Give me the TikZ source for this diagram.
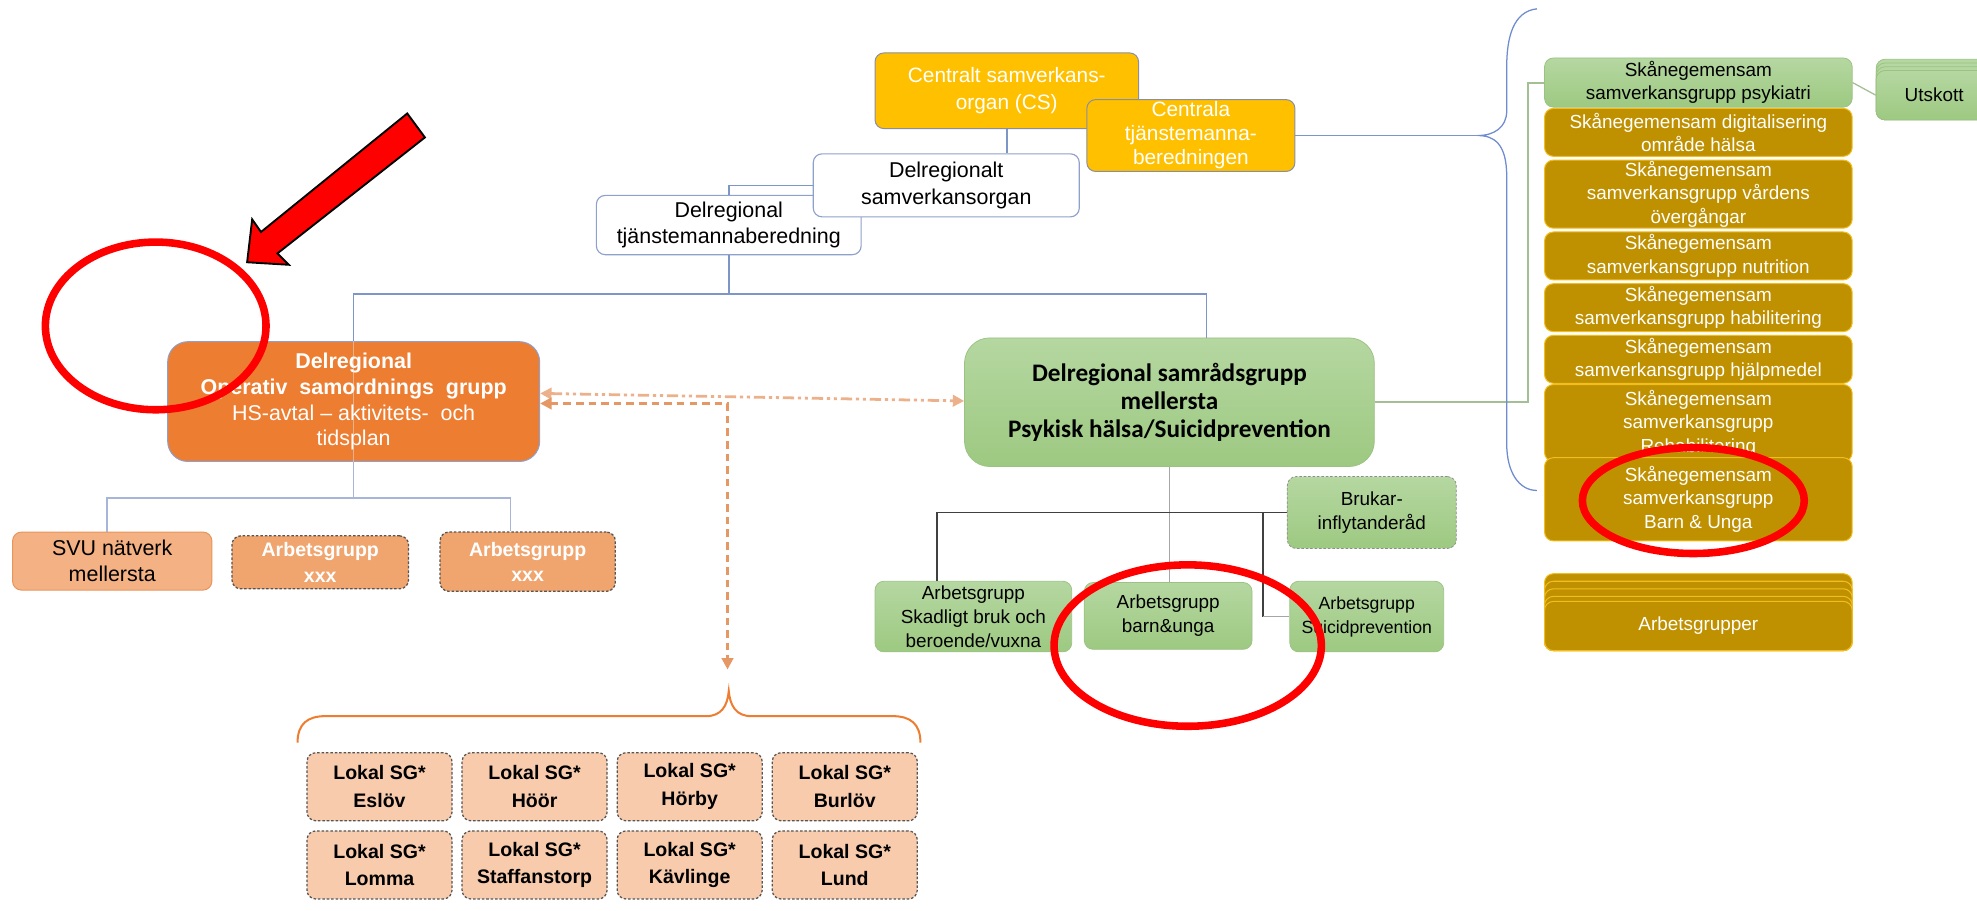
\documentclass[tikz,border=0pt]{standalone}
\usepackage{fontspec}
\setmainfont{Liberation Sans}
\newfontfamily\calibri{Carlito}
\usetikzlibrary{arrows.meta}

\definecolor{csyellow}{HTML}{FFC000}
\definecolor{osgorange}{HTML}{ED7D31}
\definecolor{svuorange}{HTML}{F4B183}
\definecolor{svuedge}{HTML}{E8955C}
\definecolor{agxorange}{HTML}{F0A46E}
\definecolor{lokalpeach}{HTML}{F8CBAD}
\definecolor{greentop}{HTML}{B5D7A1}
\definecolor{greenbot}{HTML}{9DC981}
\definecolor{greenedge}{HTML}{9CC283}
\definecolor{mustard}{HTML}{BF9000}
\definecolor{mustedge}{HTML}{F2BE1E}
\definecolor{linkblue}{HTML}{7E95C8}
\definecolor{linklight}{HTML}{A7B6D8}
\definecolor{bracebl}{HTML}{6E8CCF}
\definecolor{dashorange}{HTML}{E59764}
\definecolor{edgeblue}{HTML}{8EA0CC}
\definecolor{edgegray}{HTML}{8A8FA0}
\definecolor{dashgray}{HTML}{555555}

\tikzset{
  box/.style={rounded corners=7pt, inner sep=0pt, align=center,
    font=\fontsize{17}{21}\selectfont},
  ybox/.style={box, fill=csyellow, draw=edgegray, line width=0.8pt, text=white},
  wbox/.style={box, fill=white, draw=edgeblue, line width=0.9pt},
  obox/.style={box, fill=osgorange, draw=edgeblue, line width=0.8pt, text=white,
    rounded corners=16pt, font=\fontsize{17}{20.5}\selectfont},
  svubox/.style={box, fill=svuorange, draw=svuedge, line width=0.8pt},
  xbox/.style={box, fill=agxorange, draw=dashgray, line width=1pt,
    dash pattern=on 2pt off 1.5pt, text=white,
    font=\bfseries\fontsize{15.5}{20}\selectfont},
  lbox/.style={box, fill=lokalpeach, draw=dashgray, line width=1pt,
    dash pattern=on 2pt off 1.5pt, minimum width=115pt, minimum height=54pt,
    font=\bfseries\fontsize{15.5}{22}\selectfont},
  gbox/.style={box, top color=greentop, bottom color=greenbot, draw=greenedge,
    line width=0.6pt, font=\fontsize{15}{19}\selectfont},
  mbox/.style={box, fill=mustard, draw=mustedge, line width=0.8pt, text=white,
    minimum width=244pt, font=\fontsize{15}{18.5}\selectfont},
  pbox/.style={gbox, minimum width=244pt, font=\fontsize{15}{18.5}\selectfont},
  link/.style={linkblue, line width=1.2pt},
  lightlink/.style={linklight, line width=1.2pt},
  darklink/.style={black!75, line width=1.4pt},
  graylink/.style={black!35, line width=1pt},
  greenlink/.style={greentop!85!black!90, line width=1.5pt},
  redring/.style={red, line width=6pt}
}

\begin{document}
\begin{tikzpicture}[x=1pt,y=-1pt]

  \clip (0,0) rectangle (1568,722);
  \fill[white] (0,0) rectangle (1568,722);

  % central and sub-regional bodies
  \node[ybox, minimum width=209pt, minimum height=60pt,
    font=\fontsize{16.5}{21}\selectfont] (cs) at (798.5,72)
    {Centralt samverkans-\\organ (CS)};
  \node[ybox, minimum width=165pt, minimum height=57pt,
    font=\fontsize{16.5}{19}\selectfont] (ctb) at (944.5,107.5)
    {Centrala\\tjänstemanna-\\beredningen};
  \node[wbox, minimum width=210pt, minimum height=47pt] (dtb) at (578,178.5)
    {Delregional\\tjänstemannaberedning};
  \node[wbox, minimum width=211pt, minimum height=50pt] (dso) at (750.5,147)
    {Delregionalt\\samverkansorgan};

  % operative group (orange)
  \node[obox, minimum width=295pt, minimum height=95pt] (osg) at (280.5,318.5)
    {\textbf{Delregional}\\\textbf{Operativ~ samordnings~ grupp}\\HS-avtal – aktivitets-~ och\\tidsplan};
  \draw[white!80!gray, opacity=.5, line width=0.8pt] (osg.north) -- (osg.south);

  \node[svubox, minimum width=158pt, minimum height=46pt] (svu) at (89,445)
    {SVU nätverk\\mellersta};
  \node[xbox, minimum width=140pt, minimum height=42pt] (agx1) at (254,446)
    {Arbetsgrupp\\xxx};
  \node[xbox, minimum width=139pt, minimum height=47pt] (agx2) at (418.5,445.5)
    {Arbetsgrupp\\xxx};

  % local groups
  \foreach \name/\col/\row [count=\i] in {Eslöv/0/0, Höör/1/0, Hörby/2/0,
    Burlöv/3/0, Lomma/0/1, Staffanstorp/1/1, Kävlinge/2/1, Lund/3/1}
    \node[lbox] (lsg\i) at ({301+123*\col},{624+62*\row}) {Lokal SG*\\\name};

  \draw[osgorange, line width=1.6pt] (236,589) .. controls (236,574) and (244,568) ..
    (258,568) -- (560,568) .. controls (572,568) and (577,560) .. (578,548)
    .. controls (579,560) and (584,568) .. (596,568) -- (708,568)
    .. controls (722,568) and (730,574) .. (730,589);
  \coordinate (lsgtop) at (577,531);

  % samradsgrupp (green)
  \node[gbox, minimum width=325pt, minimum height=102pt, rounded corners=20pt,
    font=\calibri\bfseries\fontsize{20}{22}\selectfont] (sam) at (927.5,319)
    {Delregional samrådsgrupp\\mellersta\\Psykisk hälsa/Suicidprevention};
  \node[gbox, draw=black!45, dash pattern=on 2pt off 1.5pt, minimum width=134pt,
    minimum height=57pt] (bru) at (1088,406.5) {Brukar-\\inflytanderåd};
  \node[gbox, minimum width=156pt, minimum height=56pt] (ags) at (772,489)
    {Arbetsgrupp\\Skadligt bruk och\\beroende/vuxna};
  \node[gbox, minimum width=133pt, minimum height=53pt] (agb) at (926.5,488.5)
    {Arbetsgrupp\\barn\&unga};
  \node[gbox, minimum width=122pt, minimum height=56pt,
    font=\fontsize{14}{19}\selectfont] (agp) at (1084,489)
    {Arbetsgrupp\\Suicidprevention};

  % right column
  \node[pbox, minimum height=39pt] (psy) at (1347,65.5)
    {Skånegemensam\\samverkansgrupp psykiatri};
  \node[mbox, minimum height=38pt] (dig) at (1347,105)
    {Skånegemensam digitalisering\\område hälsa};
  \node[mbox, minimum height=54pt] (vrd) at (1347,154)
    {Skånegemensam\\samverkansgrupp vårdens\\övergångar};
  \node[mbox, minimum height=38pt] (nut) at (1347,203)
    {Skånegemensam\\samverkansgrupp nutrition};
  \node[mbox, minimum height=38pt] (hab) at (1347,244)
    {Skånegemensam\\samverkansgrupp habilitering};
  \node[mbox, minimum height=38pt] (hjm) at (1347,285)
    {Skånegemensam\\samverkansgrupp hjälpmedel};
  \node[mbox, minimum height=61pt] (reh) at (1347,335.5)
    {Skånegemensam\\samverkansgrupp\\Rehabilitering};
  \node[mbox, minimum height=66pt] (bu) at (1347,396)
    {Skånegemensam\\samverkansgrupp\\Barn \& Unga};

  \foreach \t in {455,461,467,473}
    \draw[mustedge, fill=mustard, line width=0.8pt, rounded corners=7pt]
      (1225,\t) rectangle (1469,516);
  \node[mbox, minimum height=39pt] (arb) at (1347,496.5) {Arbetsgrupper};

  \foreach \t in {47,50,53,56}
    \draw[greenedge, fill=greentop, line width=0.6pt, rounded corners=7pt]
      (1488,\t) rectangle (1580,95);
  \node[gbox, minimum width=92pt, minimum height=39pt,
    font=\fontsize{15}{18.5}\selectfont] (uts) at (1534,75.5) {Utskott};

  % connectors
  \coordinate (jt) at (578,233);
  \coordinate (ob) at (280.5,395);
  \coordinate (bj) at (743,406.5);
  \coordinate (bk) at (1002,406.5);
  \coordinate (bt) at (1172,107.5);

  \draw[link] (cs.south) -- (cs.south |- dso.north);
  \draw[link] (dso.west) -| (dtb.north);
  \draw[link] (dtb.south) -- (jt);
  \draw[link] (osg.north) |- (jt) -| ([xshift=29.5pt]sam.north);

  \draw[lightlink] (osg.south) -- (ob);
  \draw[lightlink] ([xshift=-4pt]svu.north) |- (ob) -| ([xshift=-13.5pt]agx2.north);

  \draw[dashorange!75, line width=2.2pt, dash pattern=on 9pt off 3pt on 2.5pt off 3pt on 2.5pt off 3pt,
    {Triangle[length=9pt,width=9pt]}-{Triangle[length=9pt,width=9pt]}]
    ([yshift=6.5pt]osg.east) -- ([yshift=1pt]sam.west);
  \draw[dashorange, line width=2.2pt, dash pattern=on 6pt off 4pt,
    {Triangle[length=9pt,width=9pt]}-{Triangle[length=9pt,width=9pt]}]
    ([yshift=-1.5pt]osg.east) -| (lsgtop);

  \draw[graylink] (sam.south) -- (sam.south |- agb.north);
  \draw[darklink] (bru.west) -- (bj) -- (bj |- ags.north);
  \draw[darklink] (bk) -- (bk |- agp.west);
  \draw[graylink] (bk |- agp.west) -- (agp.west);

  \draw[greenlink] (sam.east) -| ([xshift=-13pt]psy.west) -- (psy.west);
  \draw[greenlink, line width=1pt] (psy.east) -- (uts.west);

  \draw[bracebl, line width=1pt] (1219,7) .. controls (1200,9) and (1195,30) ..
    (1195,53) -- (1195,88) .. controls (1195,101) and (1185,107.5) .. (bt)
    .. controls (1185,107.5) and (1195,114) .. (1195,140) -- (1195,352)
    .. controls (1195,375) and (1205,389) .. (1219,389);
  \draw[link, line width=1.5pt] (ctb.east) -- (bt);

  % red markings
  \draw[black, line width=1.5pt, fill=red, line join=miter] (323,90) -- (207,184)
    -- (200,174) -- (196,208) -- (229,210) -- (220,201) -- (337,109) -- cycle;
  \draw[redring] (123.5,258.5) ellipse [x radius=87.5pt, y radius=66.5pt];
  \draw[redring] (942,512) ellipse [x radius=106pt, y radius=64pt];
  \draw[redring] (1343,397) ellipse [x radius=88pt, y radius=42pt];

\end{tikzpicture}
\end{document}
